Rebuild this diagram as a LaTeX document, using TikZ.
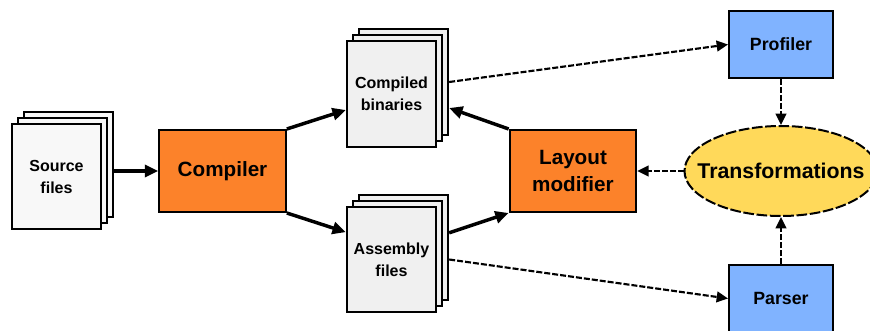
\documentclass[tikz,border=0pt]{standalone}
\usepackage{fontspec}
\setmainfont{Liberation Sans}
\usetikzlibrary{arrows.meta,shapes.geometric,shadows}

\definecolor{procorange}{RGB}{252,130,42}
\definecolor{toolblue}{RGB}{128,179,255}
\definecolor{transyellow}{RGB}{255,217,90}
\definecolor{pagegray}{RGB}{240,240,240}
\definecolor{srcgray}{RGB}{248,248,248}

\tikzset{
  box/.style={draw, line width=1.5pt, align=center, font=\bfseries},
  filestack/.style={box, fill=#1, minimum width=67pt, minimum height=79pt,
    font=\fontsize{12}{16.5}\selectfont\bfseries,
    copy shadow={shadow xshift=9pt, shadow yshift=9pt, fill=#1, draw=black, line width=1.5pt},
    copy shadow={shadow xshift=4.5pt, shadow yshift=4.5pt, fill=#1, draw=black, line width=1.5pt}},
  stage/.style={box, fill=procorange, minimum width=95pt, minimum height=61.5pt,
    font=\fontsize{15.5}{20}\selectfont\bfseries},
  tool/.style={box, fill=toolblue, minimum width=78pt, minimum height=50pt,
    font=\fontsize{13.3}{16}\selectfont\bfseries},
  trans/.style={box, ellipse, fill=transyellow, dash pattern=on 8pt off 2pt,
    minimum width=144pt, minimum height=67.5pt, inner xsep=-11.5pt, inner ysep=0pt,
    font=\fontsize{16}{20}\selectfont\bfseries},
  flow/.style={line width=2.6pt, -{Triangle[length=10pt,width=9pt]}},
  feed/.style={line width=1.6pt, dash pattern=on 4.5pt off 1.5pt,
    -{Triangle[length=8.5pt,width=8pt]}},
}

\begin{document}
\begin{tikzpicture}[x=0.75pt,y=-0.75pt]
    \useasboundingbox (0,0) rectangle (870,331);

    \node[filestack=srcgray]  (src)  at (56.5,176.5) {Source\\files};
    \node[stage]              (comp) at (222.5,171)  {Compiler};
    \node[filestack=pagegray] (bin)  at (391.5,94)   {Compiled\\binaries};
    \node[filestack=pagegray] (asm)  at (391.5,259.5) {Assembly\\files};
    \node[stage]              (lay)  at (573,171)    {Layout\\modifier};
    \node[trans]              (trn)  at (781,171)    {Transformations};
    \node[tool]               (prof) at (781,44.5)   {Profiler};
    \node[tool]               (pars) at (781,298.5)  {Parser};

    % Now draw the lines:
    \draw[flow] ([xshift=9pt]src.east |- comp.west) -- (comp.west);
    \draw[flow] (comp.north east) -- ([yshift=-12pt]bin.west);
    \draw[flow] (comp.south east) -- ([yshift=20.5pt]asm.west);
    \draw[flow] (lay.north west) -- ([xshift=9pt,yshift=-10.5pt]bin.east);
    \draw[flow] ([xshift=9pt,yshift=20pt]asm.east) -- (lay.south west);

    \draw[feed] ([xshift=9pt,yshift=9pt]bin.east) -- (prof.west);
    \draw[feed] ([xshift=9pt]asm.east) -- (pars.west);
    \draw[feed] (prof.south) -- (trn.north);
    \draw[feed] (pars.north) -- (trn.south);
    \draw[feed] (trn.west) -- (lay.east);
\end{tikzpicture}
\end{document}
